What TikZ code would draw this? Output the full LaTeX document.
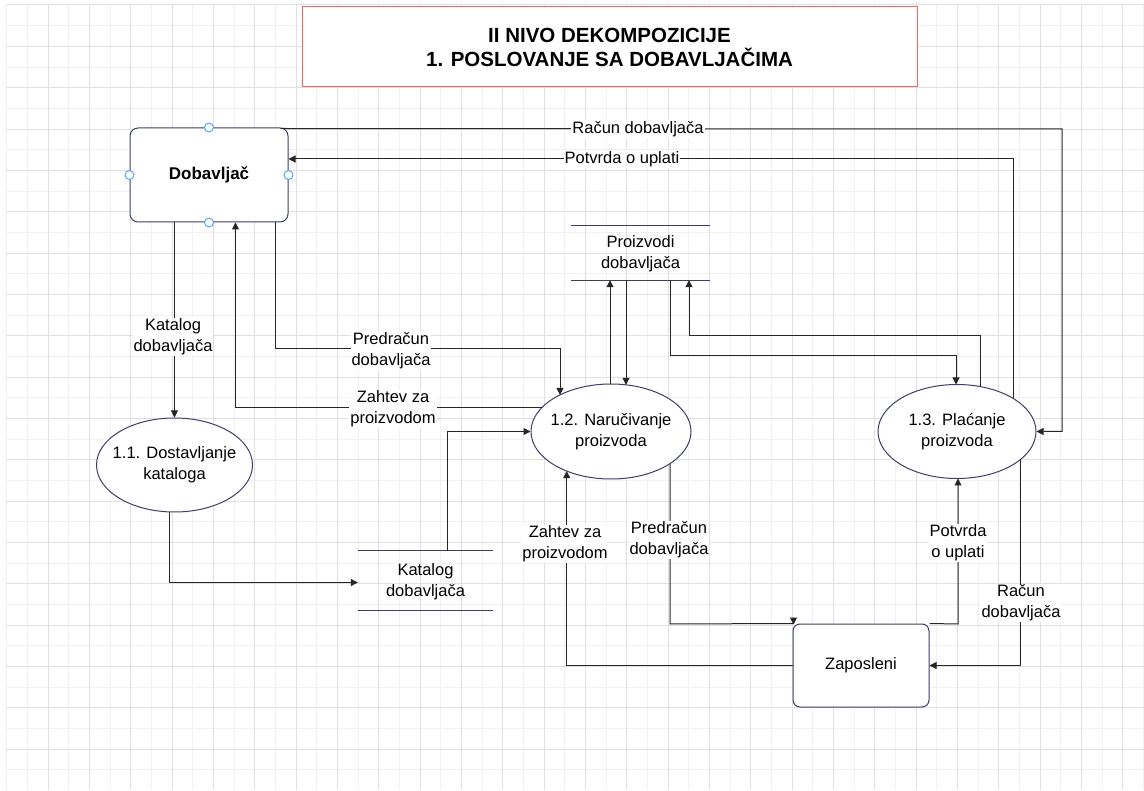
\documentclass[tikz,border=0pt]{standalone}
\usepackage{fontspec}
\setmainfont{Liberation Sans}
\usetikzlibrary{arrows.meta,shapes.geometric,calc}
\definecolor{gridminor}{RGB}{241,241,241}
\definecolor{gridmajor}{RGB}{224,224,224}
\definecolor{nodeline}{RGB}{60,64,104}
\definecolor{edgeline}{RGB}{38,38,38}
\definecolor{titlered}{RGB}{240,100,100}
\definecolor{handle}{RGB}{90,165,255}
\begin{document}
\begin{tikzpicture}[x=1pt,y=-1pt,
  proc/.style={ellipse, draw=nodeline, fill=white, line width=1pt, inner sep=0pt},
  ent/.style={rectangle, rounded corners=8pt, draw=nodeline, fill=white, line width=1pt, inner sep=0pt},
  store/.style={rectangle, inner sep=0pt},
  storeline/.style={draw=nodeline, line width=1pt},
  flow/.style={draw=edgeline, line width=1pt, -{Triangle[length=7pt,width=7pt]}},
  plain/.style={draw=edgeline, line width=1pt},
  txt/.style={align=center, inner sep=0pt, font=\fontsize{16.5}{21}\selectfont},
  lbl/.style={txt, fill=white, inner xsep=1pt, inner ysep=1pt},
  handlept/.style={circle, draw=handle, fill=white, line width=1pt, minimum size=9pt, inner sep=0pt}
]
\useasboundingbox (0,0) rectangle (1144,791);
\fill[white] (0,0) rectangle (1144,791);
% grid
\begin{scope}
\clip (6.7,5) rectangle (1144,789.6);
\foreach \k in {0,...,55}{\draw[gridminor, line width=1pt] (6.7+\k*20.67,5) -- (6.7+\k*20.67,791);}
\foreach \k in {0,...,38}{\draw[gridminor, line width=1pt] (6.7,5+\k*20.67) -- (1144,5+\k*20.67);}
\foreach \k in {0,2,...,54}{\draw[gridmajor, line width=1pt] (6.7+\k*20.67,5) -- (6.7+\k*20.67,791);}
\foreach \k in {0,2,...,38}{\draw[gridmajor, line width=1pt] (6.7,5+\k*20.67) -- (1144,5+\k*20.67);}
\end{scope}
% title
\node[draw=titlered, fill=white, line width=1pt, minimum width=615pt, minimum height=80pt, inner sep=0pt,
      align=center, font=\bfseries\fontsize{20.5}{24}\selectfont] (title) at (609.5,47) {II NIVO DEKOMPOZICIJE\\1. POSLOVANJE SA DOBAVLJAČIMA};
% nodes
\node[ent, minimum width=158pt, minimum height=94pt] (dob) at (209,175) {};
\node[txt, font=\bfseries\fontsize{17}{21}\selectfont] (dobt) at (dob.center) {Dobavljač};
\node[proc, minimum width=156pt, minimum height=94pt] (e11) at (174.5,465) {};
\node[txt] (e11t) at (e11.center) {1.1. Dostavljanje\\kataloga};
\node[proc, minimum width=160pt, minimum height=95pt] (e12) at (611,431.5) {};
\node[txt] (e12t) at (e12.center) {1.2. Naručivanje\\proizvoda};
\node[proc, minimum width=158pt, minimum height=94pt] (e13) at (957,431.5) {};
\node[txt] (e13t) at (e13.center) {1.3. Plaćanje\\proizvoda};
\node[ent, rounded corners=7pt, minimum width=136pt, minimum height=83pt] (zap) at (861,665.5) {};
\node[txt] (zapt) at (zap.center) {Zaposleni};
\node[store, minimum width=139pt, minimum height=54pt] (ps) at (640.5,253) {};
\node[txt] (pst) at (640.5,253.5) {Proizvodi\\dobavljača};
\draw[storeline] (ps.north west) -- (ps.north east);
\draw[storeline] (ps.south west) -- (ps.south east);
\node[store, minimum width=135pt, minimum height=59pt] (kat) at (425.5,580.5) {};
\node[txt] (katt) at (425.5,582) {Katalog\\dobavljača};
\draw[storeline] (kat.north west) -- (kat.north east);
\draw[storeline] (kat.south west) -- (kat.south east);
% connectors
\draw[flow] (dob.south -| e11.north) -- (e11.north);
\draw[flow] ($(dob.south)+(66,0)$) -- (275,349) -- (560,349) -- ($(e12.center)+(-51,-36.6)$);
\draw[flow] ($(e12.center)+(-69.5,-23.5)$) -- (235.5,408) -- ($(dob.south)+(26.5,0)$);
\draw[flow] ($(e12.center)+(-1,-47.5)$) -- ($(ps.south)+(-30.5,0)$);
\draw[flow] ($(ps.south)+(-14.5,0)$) -- ($(e12.center)+(15,-46.7)$);
\draw[flow] ($(ps.south)+(29.5,0)$) -- (670,356) -- (956,356) -- ($(e13.center)+(-1,-47)$);
\draw[flow] ($(e13.center)+(23.7,-44.8)$) -- (980.7,336) -- (689,336) -- ($(ps.south)+(48.5,0)$);
\draw[flow] ($(e13.center)+(56,-33.1)$) -- (1013,159) -- ($(dob.east)+(0,-16)$);
\draw[flow] ($(dob.north east)+(-8,1)$) -- (1062,129) -- (1062,431.5) -- (e13.east);
\draw[flow] ($(e11.south)+(-5,0)$) -- (169.5,582.5) -- ($(kat.west)+(0,2)$);
\draw[flow] ($(kat.north)+(22,0)$) -- (447.5,431.5) -- (e12.west);
\draw[flow] ($(e12.center)+(59,32.1)$) -- (670,624) -- ($(zap.north west)+(1,0)$) -- ($(zap.north west)+(1,1)$);
\draw[flow] (zap.west) -- (566.7,665.5) -- ($(e12.center)+(-44.3,39.6)$);
\draw[flow] (zap.north east) -- (958,624) -- ($(e13.center)+(1,47)$);
\draw[flow] ($(e13.center)+(63.7,27.8)$) -- (1020.7,665.5) -- (zap.east);
% labels
\node[lbl] (l1) at (173,337) {Katalog\\dobavljača};
\node[lbl] (l2) at (391,351) {Predračun\\dobavljača};
\node[lbl] (l3) at (393,409) {Zahtev za\\proizvodom};
\node[lbl] (l4) at (638,129) {Račun dobavljača};
\node[lbl] (l5) at (622,159) {Potvrda o uplati};
\node[lbl] (l6) at (565,544) {Zahtev za\\proizvodom};
\node[lbl] (l7) at (669,540) {Predračun\\dobavljača};
\node[lbl] (l8) at (958,543) {Potvrda\\o uplati};
\node[lbl] (l9) at (1021,603) {Račun\\dobavljača};
% selection handles
\node[handlept] (h1) at (dob.north) {};
\node[handlept] (h2) at (dob.south) {};
\node[handlept] (h3) at (dob.east) {};
\node[handlept] (h4) at (dob.west) {};
\end{tikzpicture}
\end{document}
